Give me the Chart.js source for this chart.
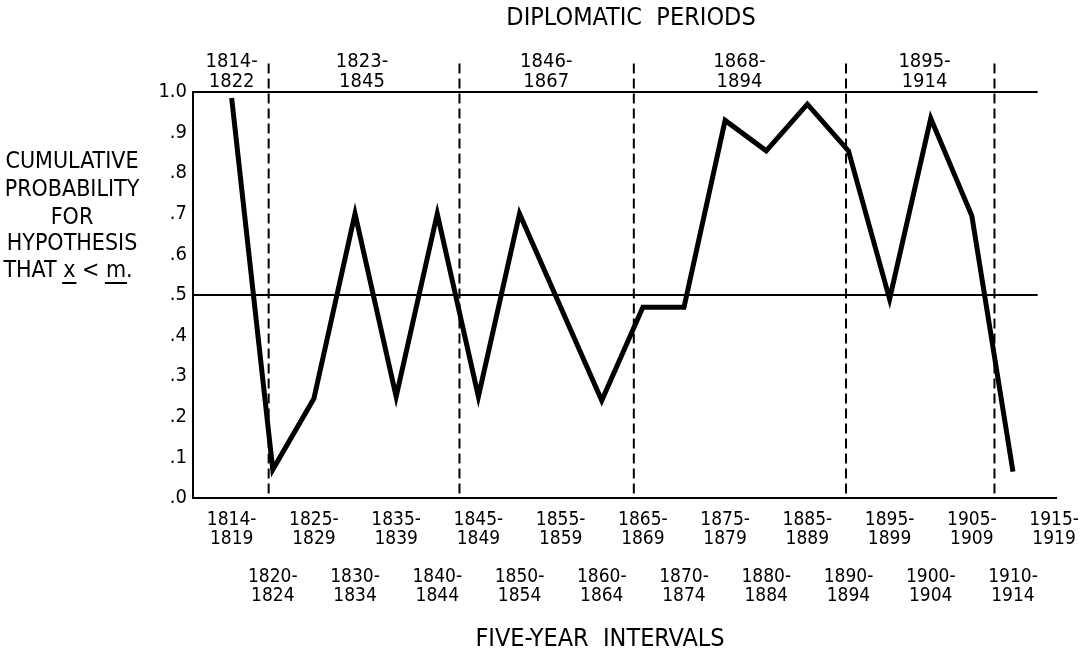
<!DOCTYPE html>
<html>
<head>
<meta charset="utf-8">
<script src="https://cdn.jsdelivr.net/npm/chart.js@4/dist/chart.umd.min.js"></script>
<style>
  html, body { margin: 0; padding: 0; background: #fff; }
  #wrap { width: 1092px; height: 655px; position: relative; }
</style>
</head>
<body>
<div id="wrap"><canvas id="c"></canvas></div>
<script>
// ---- data ----
const intervals = ['1814-1819','1820-1824','1825-1829','1830-1834','1835-1839','1840-1844',
  '1845-1849','1850-1854','1855-1859','1860-1864','1865-1869','1870-1874','1875-1879',
  '1880-1884','1885-1889','1890-1894','1895-1899','1900-1904','1905-1909','1910-1914','1915-1919'];
const probability = [0.985, 0.07, 0.245, 0.70, 0.25, 0.70, 0.25, 0.70, null, 0.24, 0.47, 0.47,
  0.93, 0.855, 0.97, 0.855, 0.49, 0.935, 0.695, 0.065, null];
const yTickLabels = ['.0','.1','.2','.3','.4','.5','.6','.7','.8','.9','1.0'];
const periodLabels = ['1814-1822','1823-1845','1846-1867','1868-1894','1895-1914'];
const periodCenters = [0, 3.17, 7.65, 12.35, 16.85];      // in interval-index units
const periodDividers = [0.9, 5.54, 9.78, 14.94, 18.55];   // in interval-index units
const referenceLevels = [0.5, 1.0];
const titleTop = 'DIPLOMATIC  PERIODS';
const titleBottom = 'FIVE-YEAR  INTERVALS';
const yTitleLines = ['CUMULATIVE','PROBABILITY','FOR','HYPOTHESIS'];

const FONT = '"DejaVu Sans Condensed", "DejaVu Sans", sans-serif';
const INK = '#000';

const points = probability.map((v, i) => ({ x: i, y: v }));

const decorPlugin = {
  id: 'decor',
  beforeDatasetsDraw(chart) {
    const ctx = chart.ctx, xs = chart.scales.x, ys = chart.scales.y;
    ctx.save();
    ctx.strokeStyle = INK; ctx.lineWidth = 2;
    referenceLevels.forEach(v => {
      const y = ys.getPixelForValue(v);
      ctx.beginPath();
      ctx.moveTo(xs.left, y);
      ctx.lineTo(xs.getPixelForValue(19.6), y);
      ctx.stroke();
    });
    ctx.setLineDash([10, 5]);
    ctx.lineWidth = 2;
    periodDividers.forEach(d => {
      const x = xs.getPixelForValue(d);
      ctx.beginPath();
      ctx.moveTo(x, ys.getPixelForValue(1.07));
      ctx.lineTo(x, ys.getPixelForValue(0));
      ctx.stroke();
    });
    ctx.restore();
  },
  afterDraw(chart) {
    const ctx = chart.ctx, xs = chart.scales.x;
    ctx.save();
    ctx.fillStyle = INK;
    ctx.textAlign = 'center';
    ctx.textBaseline = 'middle';
    ctx.font = '20px ' + FONT;
    periodLabels.forEach((p, i) => {
      const [a, b] = p.split('-');
      const x = xs.getPixelForValue(periodCenters[i]);
      ctx.fillText(a + '-', x, 62);
      ctx.fillText(b, x, 82);
    });
    ctx.font = '25px ' + FONT;
    ctx.fillText(titleTop, 631, 18);
    ctx.fillText(titleBottom, 600, 639);
    ctx.font = '23px ' + FONT;
    const ly = [162, 190, 218, 244];
    yTitleLines.forEach((t, i) => ctx.fillText(t, 72, ly[i]));
    const parts = [['THAT ', false], ['x', true], [' < ', false], ['m', true], ['.', false]];
    const total = parts.reduce((s, p) => s + ctx.measureText(p[0]).width, 0);
    let x = 68 - total / 2;
    ctx.textAlign = 'left';
    ctx.lineWidth = 2; ctx.strokeStyle = INK;
    parts.forEach(([t, u]) => {
      const w = ctx.measureText(t).width;
      ctx.fillText(t, x, 271);
      if (u) {
        ctx.beginPath();
        ctx.moveTo(x - 1, 283);
        ctx.lineTo(x + w + 1, 283);
        ctx.stroke();
      }
      x += w;
    });
    ctx.restore();
  }
};

new Chart(document.getElementById('c'), {
  type: 'line',
  data: {
    datasets: [{
      data: points,
      borderColor: INK,
      borderWidth: 5,
      pointRadius: 0,
      tension: 0,
      spanGaps: true,
      fill: false
    }]
  },
  options: {
    responsive: true,
    maintainAspectRatio: false,
    animation: false,
    layout: { padding: { top: 92, right: 32, left: 0, bottom: 0 } },
    plugins: { legend: { display: false }, tooltip: { enabled: false }, title: { display: false } },
    scales: {
      x: {
        type: 'linear',
        min: -0.94,
        max: 20.05,
        afterBuildTicks: s => { s.ticks = intervals.map((_, i) => ({ value: i })); },
        afterFit: s => { s.height = 157; },
        grid: { display: false, drawTicks: false },
        border: { display: true, color: INK, width: 2 },
        ticks: {
          autoSkip: false,
          maxRotation: 0,
          padding: 13,
          color: INK,
          font: { family: FONT, size: 19, lineHeight: 1.0 },
          callback: (v) => {
            const lab = intervals[v];
            if (!lab) return '';
            const [a, b] = lab.split('-');
            return v % 2 === 0 ? [a + '-', b] : ['', '', '', a + '-', b];
          }
        }
      },
      y: {
        min: 0,
        max: 1,
        afterFit: s => { s.width = 193; },
        afterBuildTicks: s => { s.ticks = yTickLabels.map((_, i) => ({ value: i / 10 })); },
        grid: { display: false, drawTicks: false },
        border: { display: true, color: INK, width: 2 },
        ticks: {
          padding: 6,
          color: INK,
          font: { family: FONT, size: 20 },
          callback: (v) => yTickLabels[Math.round(v * 10)]
        }
      }
    }
  },
  plugins: [decorPlugin]
});
</script>
</body>
</html>
